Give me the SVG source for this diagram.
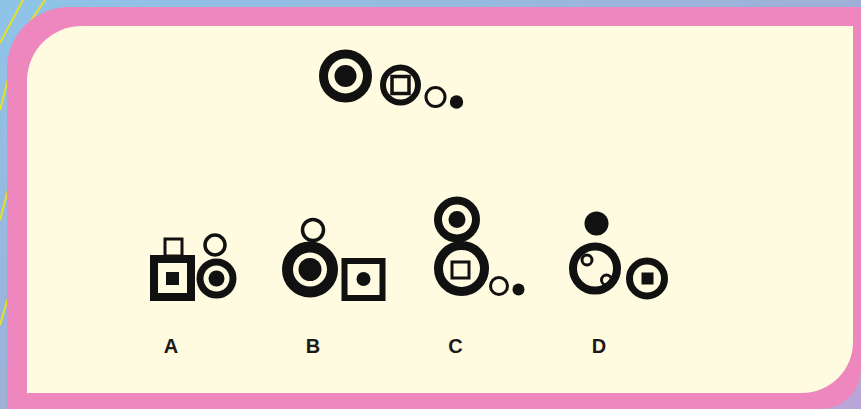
<svg xmlns="http://www.w3.org/2000/svg" width="861" height="409" viewBox="0 0 861 409">
<defs>
<linearGradient id="bg" x1="0" y1="0" x2="1" y2="1">
<stop offset="0" stop-color="#8ec4e8"/>
<stop offset="0.5" stop-color="#9fb0d8"/>
<stop offset="1" stop-color="#baa6d8"/>
</linearGradient>
<style>
.ring{fill:none;stroke:#111;}
.fill{fill:#111;}
.lbl{font-family:"Liberation Sans",Arial,sans-serif;font-weight:bold;font-size:20px;fill:#1a1a1a;text-anchor:middle;}
.yl{stroke:#e8e020;stroke-width:2;fill:none;}
</style>
</defs>
<g id="background">
<rect x="0" y="0" width="861" height="409" fill="url(#bg)"/>
<line class="yl" x1="0" y1="43" x2="23" y2="0"/>
<line class="yl" x1="18" y1="40" x2="45" y2="0"/>
<line class="yl" x1="0" y1="110" x2="12" y2="64"/>
<line class="yl" x1="0" y1="325" x2="8" y2="298"/>
<line class="yl" x1="0" y1="220" x2="8" y2="190"/>
<path d="M7,69 A62,62 0 0 1 69,7 L861,7 L861,369 A40,40 0 0 1 821,409 L7,409 Z" fill="#ef87bf"/>
<path d="M27,81 A55,55 0 0 1 82,26 L853,26 L853,342 A51,51 0 0 1 802,393 L27,393 Z" fill="#fefbe0"/>
</g>
<g id="question">
<circle class="ring" cx="345.5" cy="76" r="22" stroke-width="9"/>
<circle class="fill" cx="345.5" cy="76" r="11"/>
<circle class="ring" cx="400.5" cy="85" r="17.5" stroke-width="6"/>
<rect class="ring" x="392" y="76.5" width="17" height="17" stroke-width="3.5"/>
<circle class="ring" cx="435.5" cy="97" r="9.5" stroke-width="3"/>
<circle class="fill" cx="456.5" cy="102" r="6.7"/>
</g>
<g id="optionA">
<rect class="ring" x="165" y="239" width="17" height="17" stroke-width="3"/>
<rect class="ring" x="154" y="259" width="37" height="38" stroke-width="8"/>
<rect class="fill" x="166" y="272" width="13" height="13"/>
<circle class="ring" cx="215" cy="245" r="10" stroke-width="3.5"/>
<circle class="ring" cx="216.5" cy="278.5" r="16.5" stroke-width="7"/>
<circle class="fill" cx="216.5" cy="278.5" r="8"/>
<text class="lbl" x="171" y="353">A</text>
</g>
<g id="optionB">
<circle class="ring" cx="313" cy="230" r="10.5" stroke-width="3.5"/>
<circle class="ring" cx="310" cy="269.5" r="22.5" stroke-width="11"/>
<circle class="fill" cx="310" cy="269.5" r="11.5"/>
<rect class="ring" x="344.5" y="261" width="38" height="37" stroke-width="6"/>
<circle class="fill" cx="363.5" cy="279" r="7"/>
<text class="lbl" x="313" y="353">B</text>
</g>
<g id="optionC">
<circle class="ring" cx="457" cy="219.5" r="19" stroke-width="8"/>
<circle class="fill" cx="457" cy="219.5" r="8.5"/>
<circle class="ring" cx="461.5" cy="268.5" r="23" stroke-width="9"/>
<rect class="ring" x="452" y="262" width="17" height="16" stroke-width="3"/>
<circle class="ring" cx="499" cy="286" r="8.5" stroke-width="3"/>
<circle class="fill" cx="518.5" cy="289.5" r="6"/>
<text class="lbl" x="455.5" y="353">C</text>
</g>
<g id="optionD">
<circle class="fill" cx="596.5" cy="223.5" r="12"/>
<circle class="ring" cx="595" cy="268.5" r="22" stroke-width="8"/>
<circle class="ring" cx="587" cy="260" r="5" stroke-width="3"/>
<circle class="ring" cx="606.5" cy="280" r="5" stroke-width="3"/>
<circle class="ring" cx="647" cy="278.5" r="17.5" stroke-width="7"/>
<rect class="fill" x="641.5" y="272.5" width="12" height="12"/>
<text class="lbl" x="599" y="353">D</text>
</g>
</svg>
